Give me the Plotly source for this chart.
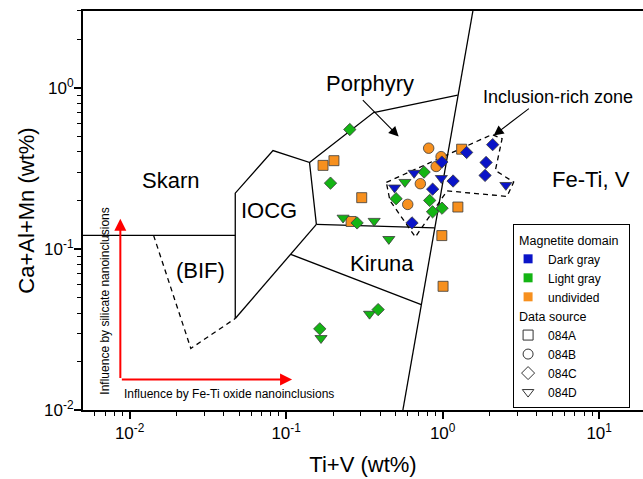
import numpy as np
import plotly.graph_objects as go

# ---- magnetite analyses (Ti+V wt%, Ca+Al+Mn wt%) ----
# Dark gray domain
dark_084C_x = [1.423, 2.087, 0.988, 1.894, 1.166, 1.866, 0.863, 0.637]
dark_084C_y = [0.397, 0.444, 0.346, 0.344, 0.264, 0.286, 0.235, 0.145]
dark_084D_x = [0.657, 0.981, 2.534, 0.493]
dark_084D_y = [0.296, 0.275, 0.249, 0.240]

# Light gray domain
light_084C_x = [0.255, 0.192, 0.284, 0.761, 0.504, 0.826, 0.991, 0.862, 0.387, 0.164]
light_084C_y = [0.551, 0.256, 0.145, 0.300, 0.205, 0.200, 0.179, 0.170, 0.0420, 0.0319]
light_084D_x = [0.231, 0.365, 0.453, 0.574, 0.341, 0.167]
light_084D_y = [0.156, 0.149, 0.115, 0.260, 0.0395, 0.0279]

# Undivided
undiv_084A_x = [0.172, 0.202, 0.304, 0.260, 1.322, 1.251, 0.988, 1.006]
undiv_084A_y = [0.330, 0.353, 0.208, 0.148, 0.416, 0.182, 0.121, 0.0586]
undiv_084B_x = [0.814, 0.977, 0.909, 0.720, 0.598]
undiv_084B_y = [0.422, 0.374, 0.325, 0.254, 0.189]

# ---- discrimination field boundaries ----
skarn_x = [0.005, 0.0473]
skarn_y = [0.1214, 0.1214]
iocg_x = [0.0473, 0.0473, 0.0824, 0.141, 0.156]
iocg_y = [0.0370, 0.222, 0.408, 0.344, 0.142]
diag_x = [0.0473, 0.156]
diag_y = [0.0370, 0.142]
kiruna_top_x = [0.156, 0.888]
kiruna_top_y = [0.142, 0.135]
kiruna_bot_x = [0.107, 0.730]
kiruna_bot_y = [0.0926, 0.0451]
porphyry_x = [0.141, 0.362, 1.248]
porphyry_y = [0.344, 0.703, 0.902]
fetiv_x = [0.557, 1.56]
fetiv_y = [0.01, 3.0]
# dashed outlines
bif_x = [0.01422, 0.0246, 0.0473]
bif_y = [0.1214, 0.0241, 0.0370]
incl_x = [0.4368, 2.069, 2.397, 2.171, 2.843, 2.579, 1.067, 0.669, 0.4599, 0.4368]
incl_y = [0.2588, 0.5134, 0.483, 0.307, 0.260, 0.2119, 0.2292, 0.1185, 0.2001, 0.2588]

# ---- tick labels ----
x_tickvals = [0.01, 0.1, 1, 10]
x_ticktext = ["10<sup>-2</sup>", "10<sup>-1</sup>", "10<sup>0</sup>", "10<sup>1</sup>"]
y_tickvals = [0.01, 0.1, 1]
y_ticktext = ["10<sup>-2</sup>", "10<sup>-1</sup>", "10<sup>0</sup>"]

FONT = "Liberation Sans, Arial, sans-serif"
BLUE = "#0A14C8"
GREEN = "#14B414"
ORANGE = "#F7901E"
EDGE = "#3a3a3a"

fig = go.Figure()

def add_line(xs, ys, dash="solid"):
    fig.add_trace(go.Scatter(x=xs, y=ys, mode="lines", showlegend=False,
                             hoverinfo="skip",
                             line=dict(color="black", width=1.3, dash=dash)))

for xs, ys in [(skarn_x, skarn_y), (iocg_x, iocg_y), (diag_x, diag_y),
               (kiruna_top_x, kiruna_top_y), (kiruna_bot_x, kiruna_bot_y),
               (porphyry_x, porphyry_y), (fetiv_x, fetiv_y)]:
    add_line(xs, ys)
add_line(bif_x, bif_y, dash="5px,4px")
add_line(incl_x, incl_y, dash="5px,4px")

def add_points(xs, ys, color, symbol, size):
    fig.add_trace(go.Scatter(x=xs, y=ys, mode="markers", showlegend=False,
                             marker=dict(color=color, symbol=symbol, size=size,
                                         line=dict(color=EDGE, width=0.8))))

add_points(undiv_084A_x, undiv_084A_y, ORANGE, "square", 10)
add_points(undiv_084B_x, undiv_084B_y, ORANGE, "circle", 10.5)
add_points(light_084D_x, light_084D_y, GREEN, "triangle-down", 10.5)
add_points(light_084C_x, light_084C_y, GREEN, "diamond", 9.5)
add_points(dark_084D_x, dark_084D_y, BLUE, "triangle-down", 10.5)
add_points(dark_084C_x, dark_084C_y, BLUE, "diamond", 9.5)

# legend entries
domain_entries = [("Dark gray", BLUE), ("Light gray", GREEN), ("undivided", ORANGE)]
for i, (name, col) in enumerate(domain_entries):
    fig.add_trace(go.Scatter(x=[None], y=[None], mode="markers", name=name,
                             legendgroup="domain",
                             legendgrouptitle=dict(text="Magnetite domain") if i == 0 else None,
                             marker=dict(color=col, symbol="square", size=9,
                                         line=dict(width=0))))
source_entries = [("084A", "square-open"), ("084B", "circle-open"),
                  ("084C", "diamond-open"), ("084D", "triangle-down-open")]
for i, (name, sym) in enumerate(source_entries):
    fig.add_trace(go.Scatter(x=[None], y=[None], mode="markers", name=name,
                             legendgroup="source",
                             legendgrouptitle=dict(text="Data source") if i == 0 else None,
                             marker=dict(color="#333333", symbol=sym, size=10,
                                         line=dict(width=1))))

annotations = []
def label(text, x, y, size=22, **kw):
    annotations.append(dict(text=text, x=x, y=y, xref="x", yref="y", showarrow=False,
                            font=dict(family=FONT, size=size, color="black"), **kw))

# region names (positions in log10 units, as annotations on log axes require)
label("Skarn", -1.740, -0.575)
label("IOCG", -1.110, -0.761)
label("(BIF)", -1.548, -1.136)
label("Kiruna", -0.388, -1.092)
label("Porphyry", -0.462, 0.027)
label("Fe-Ti, V", 0.950, -0.569)
label("Inclusion-rich zone", 0.739, -0.054, size=18)
label("Influence by Fe-Ti oxide nanoinclusions", -2.047, -1.901, size=12, xanchor="left")
label("Influence by silicate nanoinclusions", -2.155, -1.325, size=12, textangle=-90)

def arrow(tip, tail, color, width, size):
    annotations.append(dict(text="", x=tip[0], y=tip[1], ax=tail[0], ay=tail[1],
                            xref="x", yref="y", axref="x", ayref="y",
                            showarrow=True, arrowhead=2, arrowsize=size,
                            arrowwidth=width, arrowcolor=color))

arrow((-2.0594, -0.812), (-2.0594, -1.8103), "#FF0000", 2, 1.2)
arrow((-0.9623, -1.8103), (-2.0594, -1.8103), "#FF0000", 2, 1.2)
arrow((-0.2812, -0.3019), (-0.5195, -0.0663), "black", 1.1, 1.8)
arrow((0.3259, -0.2957), (0.5604, -0.1221), "black", 1.1, 1.8)

def minor_vals(kmin, kmax):
    return [m * 10.0 ** k for k in range(kmin, kmax + 1) for m in range(2, 10)]

axis_common = dict(type="log", showgrid=False, zeroline=False, showline=True,
                   linecolor="black", linewidth=2, ticks="outside", ticklen=7,
                   tickwidth=1.5, tickcolor="black",
                   tickfont=dict(family=FONT, size=17, color="black"))

fig.update_layout(
    width=643, height=479,
    margin=dict(l=83, r=0, t=11, b=69),
    paper_bgcolor="white", plot_bgcolor="white",
    font=dict(family=FONT, color="black"),
    annotations=annotations,
    xaxis=dict(range=[-2.298, 1.28], tickvals=x_tickvals, ticktext=x_ticktext,
               mirror=True,
               minor=dict(tickvals=minor_vals(-3, 1), ticks="outside", ticklen=4,
                          tickwidth=1.2, tickcolor="black", showgrid=False),
               title=dict(text="Ti+V (wt%)", standoff=14,
                          font=dict(family=FONT, size=22, color="black")),
               **axis_common),
    yaxis=dict(range=[-2, 0.477], tickvals=y_tickvals, ticktext=y_ticktext,
               mirror=False, ticklabelstandoff=-3,
               minor=dict(tickvals=minor_vals(-2, 0), ticks="outside", ticklen=4,
                          tickwidth=1.2, tickcolor="black", showgrid=False),
               title=dict(text="Ca+Al+Mn (wt%)", standoff=3,
                          font=dict(family=FONT, size=22, color="black")),
               **axis_common),
    legend=dict(x=0.768, y=0.466, xanchor="left", yanchor="top",
                bordercolor="black", borderwidth=1, bgcolor="white",
                font=dict(family=FONT, size=12, color="black"),
                grouptitlefont=dict(family=FONT, size=12.5, color="black"),
                tracegroupgap=0, itemwidth=30, indentation=-6,
                traceorder="grouped"),
)

fig.write_html("out.html")
